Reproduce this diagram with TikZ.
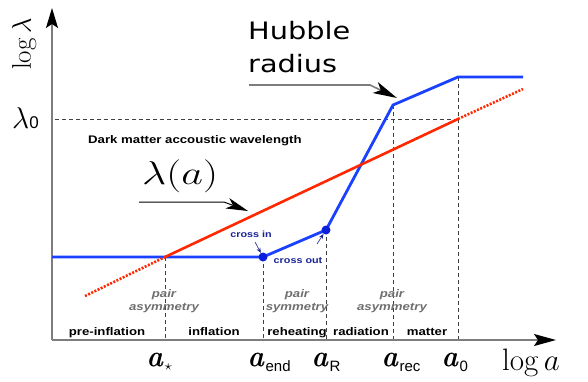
\RequirePackage{fix-cm}
\documentclass[tikz,border=0pt]{standalone}
\usepackage{amsmath}
\usepackage[no-math]{fontspec}
\newfontfamily\hv{Liberation Sans}
\newfontfamily\dv{DejaVu Sans}
\usetikzlibrary{arrows.meta}
\definecolor{bl}{RGB}{25,65,255}
\definecolor{dotbl}{RGB}{10,30,220}
\definecolor{rd}{RGB}{255,40,0}
\definecolor{axgray}{RGB}{125,125,125}
\definecolor{pairgray}{RGB}{110,110,110}
\definecolor{crossbl}{RGB}{25,35,150}
\newcommand\sx[1]{\scalebox{1.2}[1]{#1}}
\newcommand\asub[1]{\raisebox{-5pt}{\hv\fontsize{15}{15}\selectfont #1}}
\newcommand\ba{\rlap{$a$}\kern0.5pt\rlap{$a$}\kern0.5pt$a$}
\begin{document}
\begin{tikzpicture}[x=1pt,y=-1pt,
  axis/.style={draw=axgray,line width=1.5pt},
  guide/.style={draw=black!75,line width=0.8pt,dash pattern=on 4pt off 3pt},
  hubble/.style={draw=bl,line width=2.8pt,line join=miter},
  lam/.style={draw=rd,line width=2.6pt},
  lamdot/.style={draw=rd,line width=2.6pt,dash pattern=on 2pt off 1.5pt},
  phase/.style={font=\hv\bfseries\fontsize{11}{11}\selectfont,anchor=base,inner sep=0pt},
  pair/.style={font=\hv\bfseries\itshape\fontsize{11}{13}\selectfont,text=pairgray,anchor=base,inner sep=0pt},
  cross/.style={font=\hv\bfseries\fontsize{9}{9}\selectfont,text=crossbl,inner sep=0pt},
  alab/.style={anchor=base west,inner sep=0pt,font=\fontsize{30}{30}\selectfont},
  dotn/.style={circle,fill=dotbl,minimum size=9pt,inner sep=0pt}
]
\useasboundingbox (0,0) rectangle (588,381);
% coordinates
\coordinate (o) at (52,340);
\coordinate (ytop) at (52,8);
\coordinate (xend) at (556,340);
\coordinate (y0) at (55,119);
\coordinate (h0) at (52,257);
\coordinate (pstar) at (165,257);
\coordinate (bstar) at (165,340);
\coordinate (pend) at (263,257);
\coordinate (bend) at (263,340);
\coordinate (pR) at (326,230);
\coordinate (bR) at (326,340);
\coordinate (prec) at (393,105);
\coordinate (brec) at (393,340);
\coordinate (p0) at (458,77);
\coordinate (l0) at (458,119);
\coordinate (b0) at (458,340);
\coordinate (hend) at (523,77);
\coordinate (rlow) at (85,296);
\coordinate (rhigh) at (523,89);
% guides
\draw[guide] (y0) -- (l0);
\draw[guide] (pstar) -- (bstar);
\draw[guide] (pend) -- (bend);
\draw[guide] (pR) -- (bR);
\draw[guide] (prec) -- (brec);
\draw[guide] (p0) -- (b0);
% axes
\draw[axis,-{Stealth[length=20pt,width=12pt,inset=4pt,color=black]}] (o) -- (ytop);
\draw[axis,-{Stealth[length=22pt,width=12pt,inset=4pt,color=black]}] (o) -- (xend);
% curves
\draw[hubble] (h0) -- (pend) -- (pR) -- (prec) -- (p0) -- (hend);
\draw[lam] (pstar) -- (l0);
\draw[lamdot] (rlow) -- (pstar);
\draw[lamdot] (l0) -- (rhigh);
\node[dotn] (din) at (pend) {};
\node[dotn] (dout) at (pR) {};
% cross labels
\node[cross] (cin) at (251,234) {\sx{cross in}};
\node[cross] (cout) at (298,261) {\sx{cross out}};
\draw[crossbl,line width=0.6pt,-{Stealth[length=5pt,width=4pt]}] (255,242) -- (din);
\draw[crossbl,line width=0.6pt,-{Stealth[length=5pt,width=4pt]}] (317,244) -- (dout);
% axis labels
\node[rotate=90,inner sep=0pt,font=\fontsize{27}{27}\selectfont] (ylab) at (24,44) {$\log\lambda$};
\node[anchor=base west,inner sep=0pt,font=\fontsize{30}{30}\selectfont] (lam0) at (12,128) {$\lambda$\hv\fontsize{17}{17}\selectfont 0};
\node[anchor=base west,inner sep=0pt,font=\fontsize{31}{31}\selectfont] (xlab) at (502,370) {$\log a$};
\node[alab] (astar) at (148,366) {\ba$_{\scriptscriptstyle\star}$};
\node[alab] (aend) at (249,366) {\ba\asub{end}};
\node[alab] (aR) at (313,366) {\ba\asub{R}};
\node[alab] (arec) at (383,366) {\ba\asub{rec}};
\node[alab] (azero) at (443,366) {\ba\asub{0}};
% phases
\node[phase] (ph1) at (107,335) {\sx{pre-inflation}};
\node[phase] (ph2) at (214,335) {\sx{inflation}};
\node[phase] (ph3) at (297,335) {\sx{reheating}};
\node[phase] (ph4) at (361,335) {\sx{radiation}};
\node[phase] (ph5) at (427,335) {\sx{matter}};
% pair labels
\node[pair] (pa1) at (164,297) {\sx{pair}};
\node[pair] (pa1b) at (164,310) {\sx{asymmetry}};
\node[pair] (pa2) at (297,297) {\sx{pair}};
\node[pair] (pa2b) at (297,310) {\sx{symmetry}};
\node[pair] (pa3) at (392,297) {\sx{pair}};
\node[pair] (pa3b) at (392,310) {\sx{asymmetry}};
% titles
\node[anchor=base west,inner sep=0pt,font=\hv\bfseries\fontsize{11}{11}\selectfont] (dm) at (88,143) {\sx{Dark matter accoustic wavelength}};
\node[anchor=base west,inner sep=0pt,font=\fontsize{33}{33}\selectfont] (lama) at (142,184) {\scalebox{1.28}[1]{$\lambda(a)$}};
\node[anchor=base west,inner sep=0pt,font=\dv\fontsize{24}{24}\selectfont] (hub1) at (248,39) {\sx{Hubble}};
\node[anchor=base west,inner sep=0pt,font=\dv\fontsize{24}{24}\selectfont] (hub2) at (248,72) {\sx{radius}};
% pointer arrows
\coordinate (la0) at (139,202);
\coordinate (la1) at (224,202);
\coordinate (la2) at (248,211);
\draw[black,line width=1pt,-{Stealth[length=22pt,width=11pt,inset=6pt]}] (la0) -- (la1) -- (la2);
\coordinate (hb0) at (249,85);
\coordinate (hb1) at (370,85);
\coordinate (hb2) at (397,98);
\draw[axgray,line width=1.6pt,-{Stealth[length=24pt,width=12pt,inset=6pt,color=black]}] (hb0) -- (hb1) -- (hb2);
\end{tikzpicture}
\end{document}
